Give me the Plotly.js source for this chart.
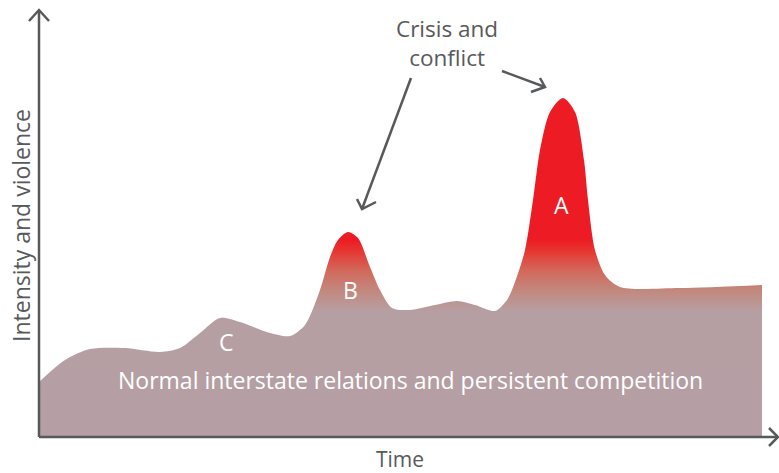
<!DOCTYPE html>
<html>
<head>
<meta charset="utf-8">
<script src="https://cdn.plot.ly/plotly-3.0.1.min.js"></script>
<style>html,body{margin:0;padding:0;background:#fff;}#chart{width:779px;height:473px;}</style>
</head>
<body>
<div id="chart"></div>
<script>
// Time position (from axis origin) and intensity (from baseline)
const timeVals = [0, 26, 51, 86, 121, 141, 161, 181, 201, 231, 251, 266, 281, 291, 299, 309, 319, 331, 341, 353, 371, 396, 418, 436, 456, 468, 476, 486, 494, 501, 511, 524, 536, 545, 549, 556, 566, 581, 641, 723];
const intensity = [55, 77, 88, 89, 85, 89, 104, 119, 115, 104, 101, 112, 147, 180, 197, 205, 199, 170, 147, 129, 127, 132, 136, 132, 126, 137, 155, 187, 237, 287, 325, 339, 325, 277, 237, 187, 162, 150, 149, 152];

const labels = [
  {t: 'A', x: 522, y: 232},
  {t: 'B', x: 311, y: 147},
  {t: 'C', x: 187, y: 95}
];

const ink = '#58595b';
const font = 'Open Sans, Noto Sans, sans-serif';

const trace = {
  x: timeVals, y: intensity, type: 'scatter', mode: 'lines',
  line: {shape: 'spline', smoothing: 0.8, width: 0, color: 'rgba(0,0,0,0)'},
  fill: 'tozeroy',
  fillgradient: {
    type: 'vertical', start: 0, stop: 339,
    colorscale: [[0, '#b59fa4'], [0.37, '#b69fa3'], [0.43, '#c2897f'], [0.49, '#d2695c'], [0.55, '#e63530'], [0.58, '#ed1c24'], [1, '#ed1c24']]
  },
  hoverinfo: 'skip', showlegend: false
};

const shapes = [
  // y axis with open arrowhead
  {type: 'line', x0: 0, y0: 0, x1: 0, y1: 426, line: {color: ink, width: 2.5}},
  {type: 'path', path: 'M -10,416 L 0,427 L 10,416', line: {color: ink, width: 2.5}},
  // x axis with open arrowhead
  {type: 'line', x0: 0, y0: 0, x1: 739, y1: 0, line: {color: ink, width: 2.5}},
  {type: 'path', path: 'M 730,9 L 739,0 L 730,-9', line: {color: ink, width: 2.5}},
  // pointer arrows
  {type: 'line', x0: 372, y0: 359, x1: 323, y1: 228, line: {color: ink, width: 2.5}},
  {type: 'path', path: 'M 318,238 L 323,228 L 337,235', line: {color: ink, width: 2.5}},
  {type: 'line', x0: 463, y0: 366, x1: 506, y1: 350, line: {color: ink, width: 2.5}},
  {type: 'path', path: 'M 501,359 L 506,350 L 492,345', line: {color: ink, width: 2.5}}
];

const annotations = labels.map(l => ({
  x: l.x, y: l.y, text: l.t, showarrow: false,
  font: {family: font, size: 23, color: '#ffffff'}
}));
annotations.push(
  {x: 371, y: 57, text: 'Normal interstate relations and persistent competition', showarrow: false,
   font: {family: font, size: 23, color: '#ffffff'}},
  {x: 408, y: 394, text: 'Crisis and<br>conflict', showarrow: false,
   font: {family: font, size: 22.5, color: ink}},
  {x: -18, y: 211, text: 'Intensity and violence', textangle: -90, showarrow: false,
   font: {family: font, size: 23, color: ink}},
  {x: 361, y: -22, text: 'Time', showarrow: false, borderpad: 0,
   font: {family: font, size: 21, color: ink}}
);

const layout = {
  width: 779, height: 473,
  margin: {l: 0, r: 0, t: 0, b: 0},
  paper_bgcolor: '#ffffff', plot_bgcolor: '#ffffff',
  xaxis: {range: [-39, 740], visible: false, fixedrange: true},
  yaxis: {range: [-36, 437], visible: false, fixedrange: true},
  shapes: shapes,
  annotations: annotations,
  showlegend: false
};

Plotly.newPlot('chart', [trace], layout, {displayModeBar: false, staticPlot: true});
</script>
</body>
</html>
